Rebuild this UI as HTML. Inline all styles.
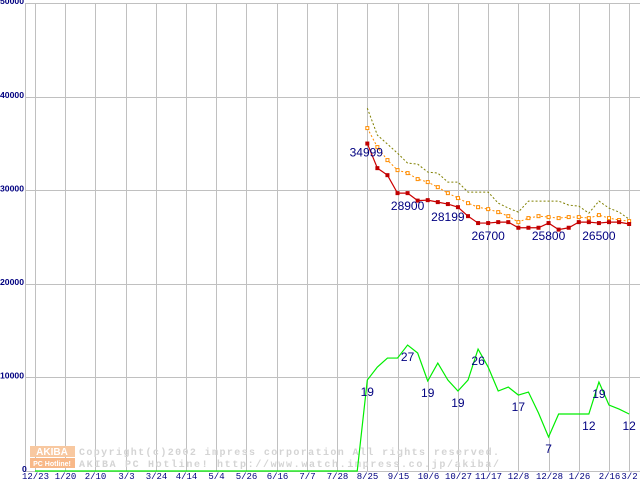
<!DOCTYPE html>
<html><head><meta charset="utf-8"><style>
html,body{margin:0;padding:0;background:#fff;width:640px;height:480px;overflow:hidden}
svg{display:block}
text{font-family:"Liberation Sans","DejaVu Sans",sans-serif}
.mono{font-family:"Liberation Mono","DejaVu Sans Mono",monospace}
</style></head><body>
<svg id="chart" width="640" height="480" viewBox="0 0 640 480" xmlns="http://www.w3.org/2000/svg">
<g id="grid"></g>
<g id="wm">
 <rect x="30" y="446" width="45" height="11" fill="#f8c8a0"/>
 <text x="52" y="455" font-size="10" fill="#fff" text-anchor="middle" font-weight="bold">AKIBA</text>
 <rect x="30" y="458" width="45" height="10" fill="#f8b888"/>
 <text x="52" y="466" font-size="7" fill="#fff" text-anchor="middle" font-weight="bold">PC Hotline!</text>
 <text class="mono" x="79" y="455" font-size="10" fill="#d4d4d4" font-weight="bold" textLength="420">Copyright(c)2002 impress corporation All rights reserved.</text>
 <text class="mono" x="79" y="467" font-size="10" fill="#d4d4d4" font-weight="bold" textLength="420">AKIBA PC Hotline!  http://www.watch.impress.co.jp/akiba/</text>
</g>
<g id="series"></g>
<g id="labels"></g>
</svg>
<script>
const yTicks=[0,10000,20000,30000,40000,50000];
const xTickLabels=["12/23","1/20","2/10","3/3","3/24","4/14","5/4","5/26","6/16","7/7","7/28","8/25","9/15","10/6","10/27","11/17","12/8","12/28","1/26","2/16","3/2"];
const xTickIdx=[0,3,6,9,12,15,18,21,24,27,30,33,36,39,42,45,48,51,54,57,59];
const startIdx=33;
const lowPrice=[34999,32370,31620,29700,29700,28900,28950,28740,28530,28199,27240,26500,26500,26600,26600,26000,26000,26000,26500,25800,26000,26600,26600,26500,26600,26600,26400];
const avgPrice=[36650,34620,33230,32160,31840,31200,30880,30340,29700,29170,28630,28200,27990,27670,27240,26600,27030,27240,27140,27030,27140,27140,27030,27350,27030,26820,26710];
const highPrice=[38780,35900,34940,33970,32910,32800,31950,31840,30880,30880,29810,29810,29810,28630,28100,27670,28850,28850,28850,28850,28420,28310,27560,28850,28100,27670,26920];
const shopCount=[9720,11110,12070,12070,13460,12610,9620,11540,9720,8550,9720,13030,11110,8550,8970,8120,8440,6200,3630,6090,6090,6090,6090,9510,7050,6620,6090];
const countLabels=[[33,"19"],[37,"27"],[39,"19"],[42,"19"],[44,"26"],[48,"17"],[51,"7"],[55,"12"],[56,"19"],[59,"12"]];
const priceLabels=[[33,"34999"],[37,"28900"],[41,"28199"],[45,"26700"],[51,"25800"],[56,"26500"]];

const X=i=>35+i*10.07;
const Y=v=>471-v*0.009356;
const NS="http://www.w3.org/2000/svg";
function mk(tag,attrs,parent){const e=document.createElementNS(NS,tag);for(const k in attrs)e.setAttribute(k,attrs[k]);parent.appendChild(e);return e;}
const grid=document.getElementById('grid'),ser=document.getElementById('series'),lab=document.getElementById('labels');
mk('line',{x1:25.5,y1:3,x2:25.5,y2:471,stroke:'#c0c0c0','stroke-width':1},grid);
yTicks.forEach(v=>{
 const l=mk('line',{x1:25,x2:640,y1:Math.round(Y(v))+0.5,y2:Math.round(Y(v))+0.5,stroke:'#c0c0c0','stroke-width':1},grid);
 
 
 const s=String(v);
 const t=mk('text',{x:v===0?22:0,y:Y(v)+1,'font-size':8,fill:'#000080','font-weight':'bold',textLength:s.length*4.8,lengthAdjust:'spacingAndGlyphs'},grid);
 t.textContent=s;
 
 
});
xTickIdx.forEach((idx,k)=>{
 const x=Math.round(X(idx))+0.5;
 const l=mk('line',{x1:x,x2:x,y1:3,y2:471,stroke:'#c0c0c0','stroke-width':1},grid);
 
 
 const t=mk('text',{x:x,y:479,'font-size':9,fill:'#000080','text-anchor':'middle'},grid);
 t.setAttribute('class','mono');
 t.textContent=xTickLabels[k];
 
 
});
function pts(arr){return arr.map((v,i)=>X(startIdx+i)+','+Y(v)).join(' ');}
let cp=X(0)+','+Y(0)+' '+X(startIdx-1)+','+Y(0)+' '+pts(shopCount);
const g=mk('polyline',{points:cp,fill:'none',stroke:'#00ee00','stroke-width':1.2},ser);


const hi=mk('polyline',{points:pts(highPrice),fill:'none',stroke:'#808000','stroke-width':1,'stroke-dasharray':'2,2'},ser);


const av=mk('polyline',{points:pts(avgPrice),fill:'none',stroke:'#ff8c00','stroke-width':1,'stroke-dasharray':'2,2'},ser);


avgPrice.forEach((v,i)=>{const r=mk('rect',{x:X(startIdx+i)-1.5,y:Y(v)-1.5,width:3,height:3,fill:'#fff',stroke:'#ff8c00','stroke-width':1},ser);
 
 });
const lo=mk('polyline',{points:pts(lowPrice),fill:'none',stroke:'#cc0000','stroke-width':1.2},ser);


lowPrice.forEach((v,i)=>{const r=mk('rect',{x:X(startIdx+i)-2,y:Y(v)-2,width:4,height:4,fill:'#c00000'},ser);
 
 });
countLabels.forEach(([idx,s])=>{const t=mk('text',{x:X(idx),y:Y(shopCount[idx-startIdx])+16,'font-size':12,fill:'#000080','text-anchor':'middle'},lab);
 t.textContent=s;
 
 });
priceLabels.forEach(([idx,s])=>{const v=lowPrice[idx-startIdx];const t=mk('text',{x:X(idx)+(idx===startIdx?-1:0),y:Y(v)+(idx===startIdx?13:17),'font-size':12,fill:'#000080','text-anchor':'middle'},lab);
 t.textContent=s;
 
 });
</script>
</body></html>
